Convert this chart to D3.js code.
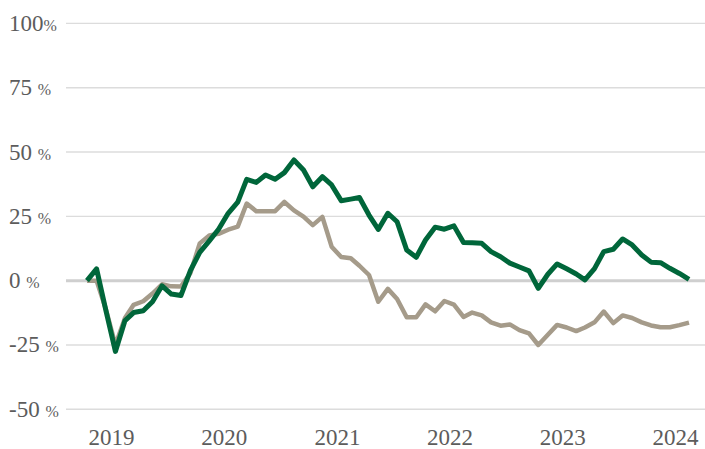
<!DOCTYPE html>
<html>
<head>
<meta charset="utf-8">
<script src="https://cdn.jsdelivr.net/npm/d3@7/dist/d3.min.js"></script>
<style>
  body { margin: 0; background: #fff; }
  svg { display: block; }
</style>
</head>
<body>
<svg id="chart"></svg>
<script>
// monthly points, first one is the base month
const startMonth = "2018-10-15"

// green series (%)
const greenValues = [
  0, 4.6, -11.5, -27.5, -15.5, -12.4, -11.7, -8.2, -2.0, -5.2, -5.8, 4.0,
  11.0, 15.5, 20.0, 26.2, 30.5, 39.4, 38.2, 41.1, 39.4, 42.0, 46.9, 43.0,
  36.5, 40.4, 37.2, 31.1, 31.7, 32.3, 25.5, 19.9, 26.2, 22.9, 11.9, 9.1,
  15.8, 20.8, 20.0, 21.3, 14.8, 14.7, 14.5, 11.3, 9.3, 6.8, 5.3, 3.8,
  -3.0, 2.5, 6.5, 4.6, 2.6, 0.3, 4.7, 11.3, 12.2, 16.2, 13.9, 10.0,
  7.2, 7.0, 4.8, 2.8, 0.5
]

// beige series (%)
const tanValues = [
  0, 0, -11, -25, -14.5, -9.4, -8.0, -5.0, -1.4, -2.2, -2.3, 3.0,
  14.5, 17.6, 18.2, 19.8, 21.0, 30.0, 27.0, 27.0, 27.0, 30.6, 27.3, 24.9,
  21.6, 24.8, 13.2, 9.2, 8.7, 5.8, 2.2, -8.2, -3.2, -7.1, -14.2, -14.2,
  -9.2, -11.9, -7.9, -9.3, -14.1, -12.4, -13.5, -16.2, -17.5, -17.0, -19.2, -20.5,
  -25.0, -21.0, -17.2, -18.2, -19.6, -18.2, -16.2, -12.0, -16.5, -13.5, -14.5, -16.2,
  -17.4, -18.1, -18.1, -17.3, -16.3
]

const yTicks = [100, 75, 50, 25, 0, -25, -50]
const yLabels = ["100%", "75 %", "50 %", "25 %", "0 %", "-25 %", "-50 %"]
const yearTicks = [2019, 2020, 2021, 2022, 2023, 2024]

let svgWidth = 705
let svgHeight = 449
let gridLeft = 66

const svg = d3.select("#chart")
  .attr("width", svgWidth)
  .attr("height", svgHeight)

const parseDate = d3.timeParse("%Y-%m-%d")
const dates = greenValues.map((d, i) => d3.timeMonth.offset(parseDate(startMonth), i))

const green = greenValues.map((v, i) => ({ date: dates[i], value: v }))
const tan = tanValues.map((v, i) => ({ date: dates[i], value: v }))

// scales
let xScale = d3.scaleTime()
  .domain([dates[0], dates[dates.length - 1]])
  .range([87, 689])

let yScale = d3.scaleLinear()
  .domain([-50, 100])
  .range([409.3, 23.4])

// grid lines
svg.append("g")
  .selectAll("line")
  .data(yTicks)
  .join("line")
  .attr("x1", gridLeft)
  .attr("x2", svgWidth)
  .attr("y1", d => yScale(d))
  .attr("y2", d => yScale(d))
  .attr("stroke", d => d === 0 ? "#cfcfcf" : "#dcdcdc")
  .attr("stroke-width", d => d === 0 ? 3 : 1.4)

// y labels
const yText = svg.append("g")
  .selectAll("text")
  .data(yTicks)
  .join("text")
  .attr("x", 9)
  .attr("y", d => yScale(d) + 7.5)
  .attr("fill", "#5c5c5c")
  .style("font-family", "'Liberation Serif', 'Times New Roman', serif")

yText.append("tspan")
  .style("font-size", "23px")
  .text((d, i) => yLabels[i].replace("%", ""))

yText.append("tspan")
  .style("font-size", "16px")
  .text("%")

// x axis
const xAxis = svg.append("g")
  .attr("transform", `translate(0, ${yScale(-50)})`)
  .call(d3.axisBottom(xScale)
    .tickValues(yearTicks.map(y => new Date(y, 0, 1)))
    .tickFormat(d3.timeFormat("%Y"))
    .tickSize(0)
    .tickPadding(19))

xAxis.select(".domain").remove()
xAxis.selectAll("text")
  .attr("fill", "#5c5c5c")
  .style("font-family", "'Liberation Serif', 'Times New Roman', serif")
  .style("font-size", "23px")

// lines
const line = d3.line()
  .x(d => xScale(d.date))
  .y(d => yScale(d.value))

svg.append("path")
  .datum(tan)
  .attr("d", line)
  .attr("fill", "none")
  .attr("stroke", "#a59b8a")
  .attr("stroke-width", 4.5)
  .attr("stroke-linejoin", "round")

svg.append("path")
  .datum(green)
  .attr("d", line)
  .attr("fill", "none")
  .attr("stroke", "#00663a")
  .attr("stroke-width", 5)
  .attr("stroke-linejoin", "round")
</script>
</body>
</html>
